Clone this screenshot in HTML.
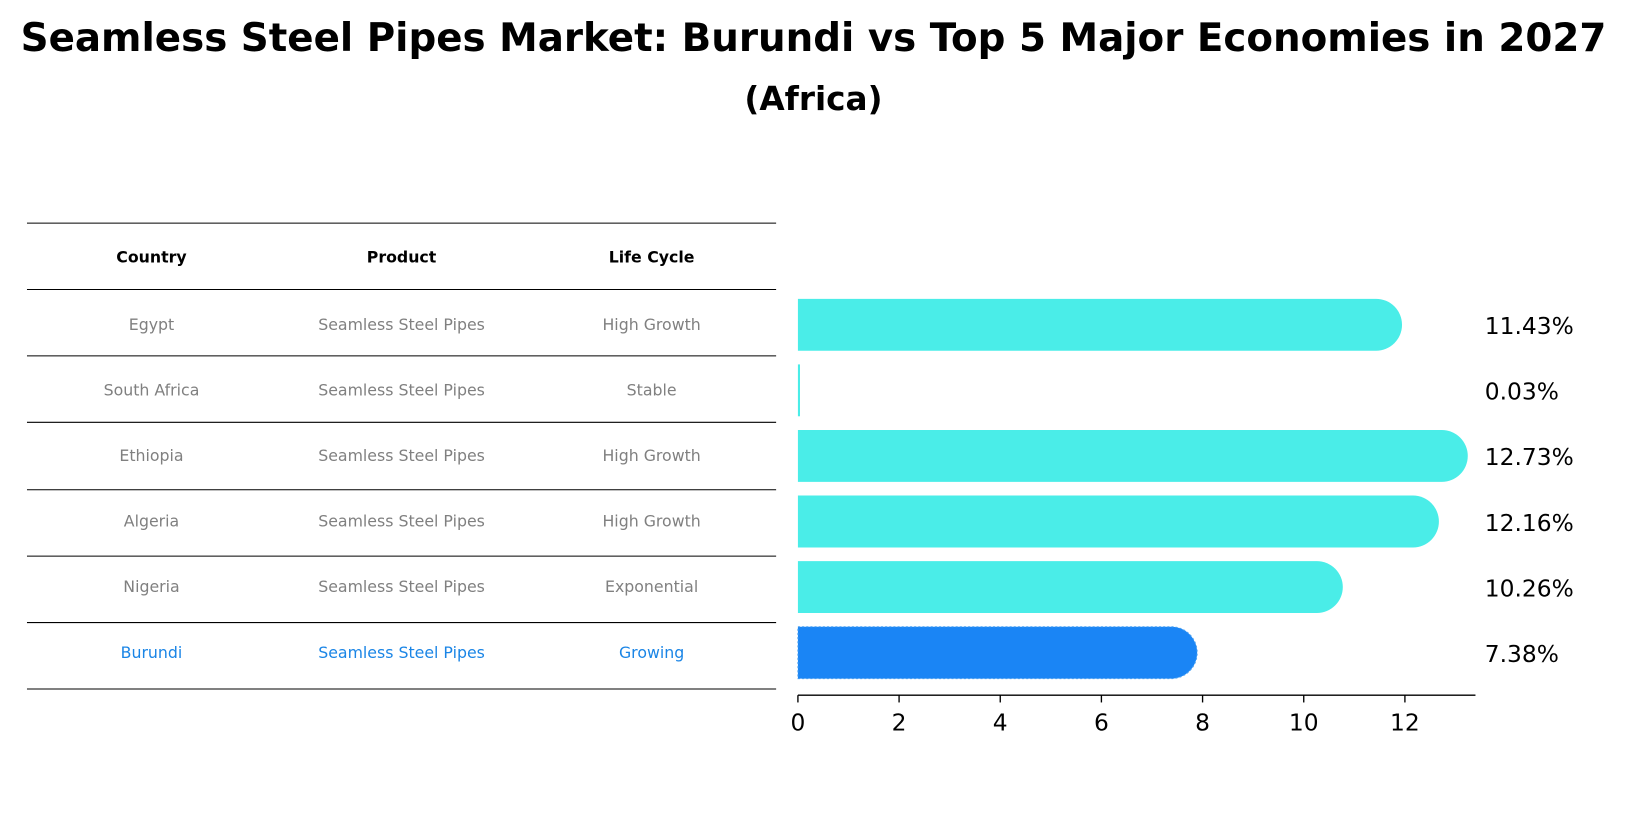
<!DOCTYPE html>
<html><head><meta charset="utf-8"><style>
body{margin:0;background:#fff;font-family:"Liberation Sans","DejaVu Sans",sans-serif;}
</style></head><body>
<svg width="1627" height="823" xmlns="http://www.w3.org/2000/svg" font-family="DejaVu Sans, Liberation Sans, sans-serif">
<g transform="scale(1.0376)">
<text x="784" y="49" text-anchor="middle" font-size="37.4" font-weight="bold">Seamless Steel Pipes Market: Burundi vs Top 5 Major Economies in 2027</text>
<text x="784" y="106" text-anchor="middle" font-size="31.5" font-weight="bold">(Africa)</text>
<g id="table"></g>
<g id="bars"></g>
</g>
</svg>
<script>
const countries=["Egypt","South Africa","Ethiopia","Algeria","Nigeria","Burundi"];
const products=["Seamless Steel Pipes","Seamless Steel Pipes","Seamless Steel Pipes","Seamless Steel Pipes","Seamless Steel Pipes","Seamless Steel Pipes"];
const lifecycles=["High Growth","Stable","High Growth","High Growth","Exponential","Growing"];
const values=[11.43,0.03,12.73,12.16,10.26,7.38];
const ticks=[0,2,4,6,8,10,12];
const NS="http://www.w3.org/2000/svg";
const x0=769, pxPerUnit=48.75;
function xs(v){return x0+v*pxPerUnit;}
function rowY(i){return 313+i*63.2;}
function mk(tag,attrs,parent){const e=document.createElementNS(NS,tag);for(const k in attrs)e.setAttribute(k,attrs[k]);parent.appendChild(e);return e;}
const tb=document.getElementById('table');
const lineYs=[215,279,343,407,472,536,600,664];
lineYs.forEach((y,i)=>{const l=mk('line',{x1:26,x2:748,y1:y,y2:y,stroke:'#000','stroke-width':1},tb);

});
const colX=[146,387,628];
["Country","Product","Life Cycle"].forEach((h,j)=>{const t=mk('text',{x:colX[j],y:253,'text-anchor':'middle','font-size':15.2,'font-weight':'bold'},tb);t.textContent=h;

});
countries.forEach((c,i)=>{const y=rowY(i)+5;const col=i===countries.length-1?'#1a85e6':'#808080';
[c,products[i],lifecycles[i]].forEach((s,j)=>{const t=mk('text',{x:colX[j],y:y,'text-anchor':'middle','font-size':15.2,fill:col},tb);t.textContent=s;

});});
const bg=document.getElementById('bars');
values.forEach((v,i)=>{const cy=rowY(i),h=50,r=25,isB=i===values.length-1;
const col=isB?'#1a85f5':'#4aede8';const xe=xs(v);
const p=mk('path',{d:`M${x0},${cy-h/2} L${xe},${cy-h/2} A${r},${r} 0 0 1 ${xe},${cy+h/2} L${x0},${cy+h/2} Z`,fill:col},bg);
if(v<0.5){p.setAttribute('d',`M${x0},${cy-h/2} h2 v${h} h-2 Z`);}
if(isB){p.setAttribute('stroke','#4aa0f0');p.setAttribute('stroke-dasharray','2,2');}


const t=mk('text',{x:1431,y:cy+9,'font-size':22.5},bg);t.textContent=v.toFixed(2)+'%';

});
const ax=mk('line',{x1:x0,x2:1422,y1:670,y2:670,stroke:'#000','stroke-width':1.3},bg);


ticks.forEach(t=>{const l=mk('line',{x1:xs(t),x2:xs(t),y1:670,y2:677,stroke:'#000','stroke-width':1.3},bg);


const tx=mk('text',{x:xs(t),y:704,'text-anchor':'middle','font-size':22.5},bg);tx.textContent=t;

});
</script>
</body></html>
